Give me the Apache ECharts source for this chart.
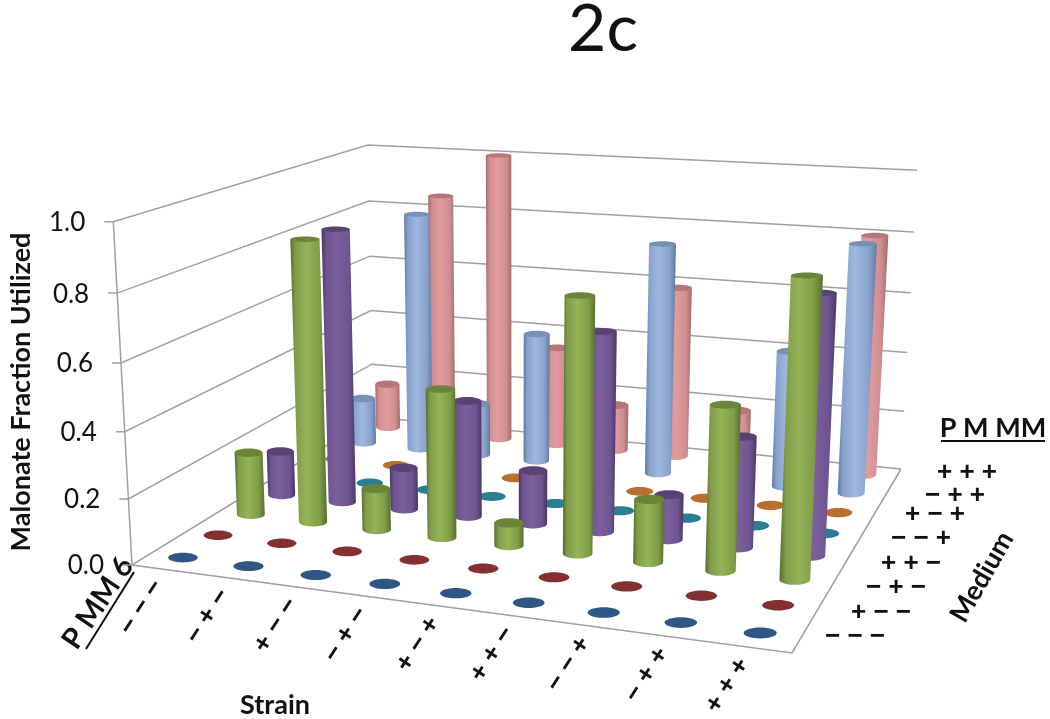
<!DOCTYPE html>
<html><head><meta charset="utf-8">
<style>html,body{margin:0;padding:0;background:#fff}#c{width:1050px;height:719px}</style>
<script src="https://cdn.jsdelivr.net/npm/echarts@6/dist/echarts.min.js"></script>
</head><body><div id="c"></div>
<script>
const strains=['− − −','− + −','+ − −','− + −','+ − +','+ + −','− − +','− + +','+ + +'];
const media=['− − −','+ − −','− + −','+ + −','− − +','+ − +','− + +','+ + +'];
const valueTicks=[0,0.2,0.4,0.6,0.8,1.0];
const medium0=[0,0,0,0,0,0,0,0,0];
const medium1=[0,0,0,0,0,0,0,0,0];
const medium2=[0.20,0.88,0.13,0.46,0.07,0.77,0.19,0.49,0.87];
const medium3=[0.145,0.875,0.135,0.37,0.17,0.62,0.14,0.34,0.78];
const medium4=[0,0,0,0,0,0,0,0,0];
const medium5=[0,0,0,0,0,0,0,0,0];
const medium6=[0.16,0.82,0.18,0.44,0,0.77,0,0.45,0.81];
const medium7=[0.16,0.85,1.00,0.345,0.16,0.585,0.18,0.30,0.80];
const rows=[medium0,medium1,medium2,medium3,medium4,medium5,medium6,medium7];
const palette=[
 {top:'#2F5783',edge:'#2F5783',mid:'#2F5783',light:'#2F5783'},
 {top:'#853030',edge:'#853030',mid:'#853030',light:'#853030'},
 {top:'#6A8438',edge:'#566E2E',mid:'#7F9C48',light:'#95B457'},
 {top:'#5A4274',edge:'#4A3662',mid:'#6E5490',light:'#7C5F9E'},
 {top:'#2C7D90',edge:'#2C7D90',mid:'#2C7D90',light:'#2C7D90'},
 {top:'#B8702C',edge:'#B8702C',mid:'#B8702C',light:'#B8702C'},
 {top:'#7890B5',edge:'#5F7A9E',mid:'#88A2CB',light:'#9FB8E0'},
 {top:'#B67678',edge:'#9E6C6E',mid:'#D08E90',light:'#E29C9F'}
];
// Camera: where the corners of the unit box fall on the page
const camA=[132,565],camB=[792,653],camC=[901,469],camD=[373,417];
const camTopA=[113,222],camTopD=[368,144],camTopC=[917,171];
function solve(M,b){const n=b.length,a=M.map((r,i)=>r.concat(b[i]));
 for(let i=0;i<n;i++){let p=i;for(let r=i+1;r<n;r++)if(Math.abs(a[r][i])>Math.abs(a[p][i]))p=r;
  [a[i],a[p]]=[a[p],a[i]];
  for(let r=0;r<n;r++)if(r!==i){const f=a[r][i]/a[i][i];for(let c=i;c<=n;c++)a[r][c]-=f*a[i][c];}}
 return a.map((r,i)=>r[n]/r[i]);}
const sx=camA[0]-camB[0]+camC[0]-camD[0],sy=camA[1]-camB[1]+camC[1]-camD[1];
const dx1=camB[0]-camC[0],dx2=camD[0]-camC[0],dy1=camB[1]-camC[1],dy2=camD[1]-camC[1];
const den=dx1*dy2-dx2*dy1;
const G=(sx*dy2-dx2*sy)/den,H=(dx1*sy-sx*dy1)/den;
const a11=camB[0]-camA[0]+G*camB[0],a12=camD[0]-camA[0]+H*camD[0],a13=camA[0];
const a21=camB[1]-camA[1]+G*camB[1],a22=camD[1]-camA[1]+H*camD[1],a23=camA[1];
// z terms by least squares
const tops=[[0,0,camTopA],[0,1,camTopD],[1,1,camTopC]];
const rowsLS=[],rhs=[];
tops.forEach(([x,y,p])=>{
 const w=G*x+H*y+1;
 rowsLS.push([1,0,-p[0]]);rhs.push(p[0]*w-(a11*x+a12*y+a13));
 rowsLS.push([0,1,-p[1]]);rhs.push(p[1]*w-(a21*x+a22*y+a23));
});
const N=[0,1,2].map(i=>[0,1,2].map(j=>rowsLS.reduce((s,r)=>s+r[i]*r[j],0)));
const R=[0,1,2].map(i=>rowsLS.reduce((s,r,k)=>s+r[i]*rhs[k],0));
const [Dz,Lz,Kz]=solve(N,R);
function proj(x,y,z){const w=G*x+H*y+1+Kz*z;
 return [(a11*x+a12*y+a13+Dz*z)/w,(a21*x+a22*y+a23+Lz*z)/w,w];}

const GRID={left:0,top:0,width:900,height:500};
const BAR_R=15, LINE='#A0A0A0';
const FONT='Lato, Carlito, "Open Sans", sans-serif';
const SYMBOL_FONT='bold 26px "Liberation Sans", Arial, sans-serif';

function toUnit(api,i,v){const p=api.coord([i,v]);
 return [(p[0]-GRID.left)/GRID.width,(GRID.top+GRID.height-p[1])/GRID.height];}

function renderBar(rowIdx){return function(params,api){
 const i=api.value(0),v=api.value(1),u=toUnit(api,i,v);
 const y=(rowIdx+0.5)/media.length;
 const b=proj(u[0],y,0),t=proj(u[0],y,u[1]);
 const c=palette[rowIdx];
 const rb=BAR_R/b[2],rt=BAR_R/t[2];
 const ratio=z=>0.33-0.16*z;
 const ryb=rb*ratio(0),ryt=rt*ratio(u[1]);
 if(v<=0)return {type:'ellipse',shape:{cx:b[0],cy:b[1],rx:rb,ry:ryb},style:{fill:c.top}};
 const pts=[[t[0]-rt,t[1]],[b[0]-rb,b[1]]];
 for(let k=1;k<24;k++){const a=Math.PI-k/24*Math.PI;pts.push([b[0]+rb*Math.cos(a),b[1]+ryb*Math.sin(a)]);}
 pts.push([b[0]+rb,b[1]],[t[0]+rt,t[1]]);
 const grad={type:'linear',x:0,y:0,x2:1,y2:0,colorStops:[
  {offset:0,color:c.edge},{offset:0.14,color:c.mid},{offset:0.45,color:c.light},
  {offset:0.8,color:c.mid},{offset:1,color:c.edge}]};
 return {type:'group',children:[
  {type:'polygon',shape:{points:pts},style:{fill:grad}},
  {type:'ellipse',shape:{cx:t[0],cy:t[1],rx:rt,ry:ryt},style:{fill:c.top}}
 ]};
};}

function renderFrame(params,api){
 const t=api.value(1),u=toUnit(api,0,t)[1];
 const a=proj(0,0,u),d=proj(0,1,u),c=proj(1,1,u);
 const ls={stroke:LINE,lineWidth:1.5,fill:null};
 return {type:'group',children:[
  {type:'polyline',shape:{points:[[a[0]-9,a[1]],a.slice(0,2),d.slice(0,2),c.slice(0,2)]},style:ls},
  {type:'text',x:a[0]-28,y:a[1]+1,style:{text:t.toFixed(1),font:'26px '+FONT,fill:'#111',align:'right',verticalAlign:'middle'}}
 ]};
}
function renderEdges(params,api){
 const A=proj(0,0,0),B=proj(1,0,0),C=proj(1,1,0),At=proj(0,0,1);
 return {type:'polyline',shape:{points:[At.slice(0,2),A.slice(0,2),B.slice(0,2),C.slice(0,2)]},style:{stroke:LINE,lineWidth:1.5,fill:null}};
}
function renderStrainLabel(params,api){
 const u=toUnit(api,api.value(0),0),p=proj(u[0],0,0);
 return {type:'text',x:p[0]-23,y:p[1]+38,rotation:57*Math.PI/180,
  style:{text:strains[api.value(0)],font:SYMBOL_FONT,fill:'#111',align:'center',verticalAlign:'middle'}};
}
const mediumLabelX=[855,881,896,911,921,935,955,967];
const mediumLabelY=[637,613,588,564,539,515,496,473];
const freeText=[
 {t:'Malonate Fraction Utilized',x:21,y:392,r:90,f:'bold 27px '},
 {t:'Strain',x:275,y:705,r:0,f:'bold 27px '},
 {t:'Medium',x:982,y:577,r:60,f:'bold 27px '},
 {t:'P M MM',x:993,y:428,r:0,f:'bold 27px '},
 {t:'P MM 6',x:98,y:603,r:56,f:'bold 29px '}
];
const series=[];
series.push({type:'custom',name:'walls',coordinateSystem:'cartesian2d',silent:true,clip:false,z:1,
 renderItem:renderFrame,data:valueTicks.map(v=>[0,v])});
series.push({type:'custom',name:'edges',coordinateSystem:'cartesian2d',silent:true,clip:false,z:1,
 renderItem:renderEdges,data:[[0,0]]});
series.push({type:'custom',name:'strainLabels',coordinateSystem:'cartesian2d',silent:true,clip:false,z:1,
 renderItem:renderStrainLabel,data:strains.map((s,i)=>[i,0])});
for(let r=rows.length-1;r>=0;r--){
 series.push({type:'custom',name:'Medium '+media[r],coordinateSystem:'cartesian2d',silent:true,clip:false,z:2,
  renderItem:renderBar(r),data:rows[r].map((v,i)=>[i,v])});
}
const graphic=[];
media.forEach((m,j)=>graphic.push({type:'text',x:mediumLabelX[j],y:mediumLabelY[j],silent:true,
 style:{text:m,font:SYMBOL_FONT,fill:'#111',align:'center',verticalAlign:'middle'}}));
freeText.forEach(o=>graphic.push({type:'text',x:o.x,y:o.y,rotation:o.r*Math.PI/180,silent:true,
 style:{text:o.t,font:o.f+FONT,fill:'#111',align:'center',verticalAlign:'middle'}}));
graphic.push({type:'line',silent:true,shape:{x1:941,y1:441,x2:1045,y2:441},style:{stroke:'#111',lineWidth:2}});
graphic.push({type:'line',silent:true,shape:{x1:86,y1:649,x2:134,y2:572},style:{stroke:'#111',lineWidth:2}});
const chart=echarts.init(document.getElementById('c'));
chart.setOption({
 animation:false,backgroundColor:'#fff',
 title:{text:'2c',left:598,top:-8,textAlign:'center',textStyle:{fontFamily:FONT,fontWeight:'normal',fontSize:66,color:'#111'}},
 grid:GRID,
 xAxis:{type:'category',data:strains,show:false},
 yAxis:{type:'value',min:0,max:1,show:false},
 graphic:{elements:graphic},
 series:series
});
</script></body></html>
